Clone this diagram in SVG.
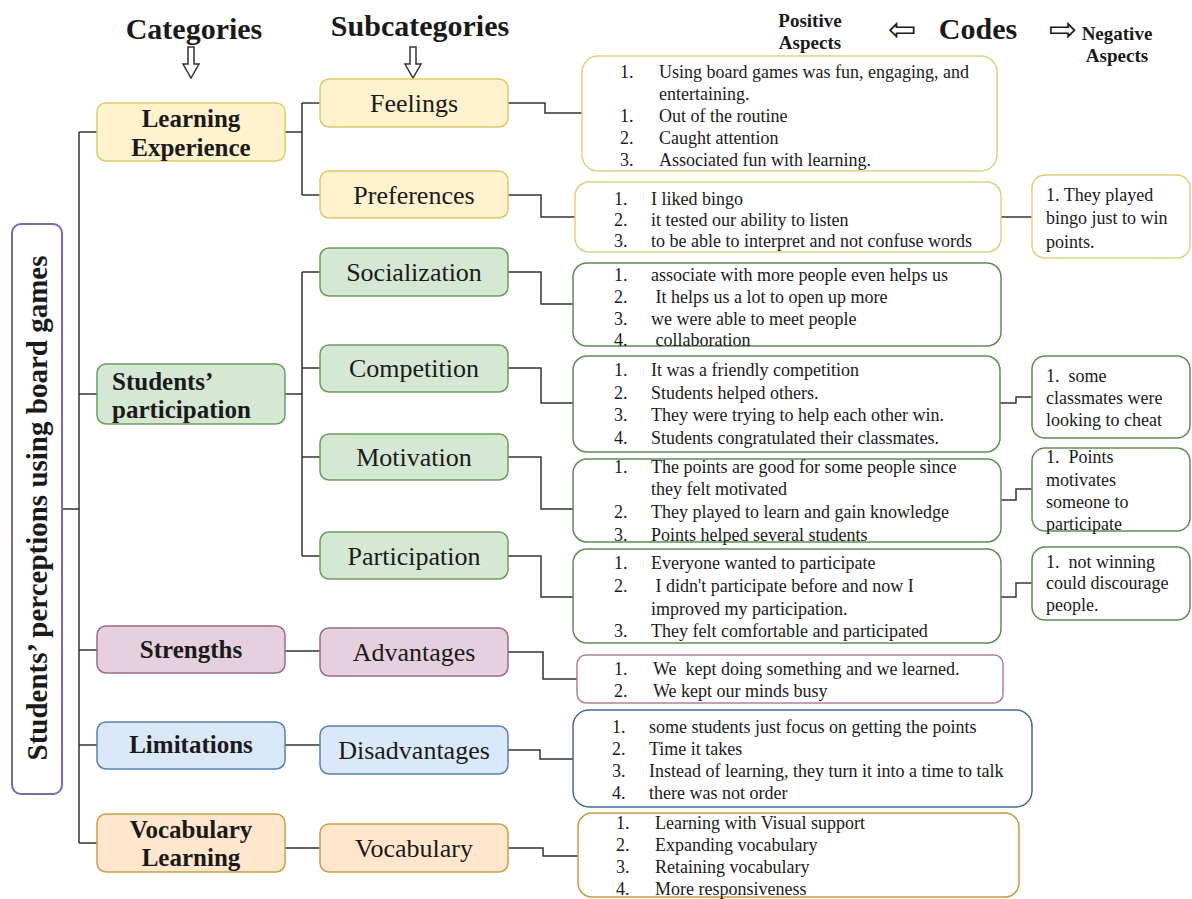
<svg xmlns="http://www.w3.org/2000/svg" width="1192" height="899" viewBox="0 0 1192 899">
<style>
text{font-family:"Liberation Serif","Times New Roman",serif;fill:#1a1a1a}
.hd{font-size:30px;font-weight:bold;text-anchor:middle}
.asp{font-size:19px;font-weight:bold;text-anchor:middle}
.arr{font-family:"DejaVu Sans",sans-serif;font-size:34px;text-anchor:middle}
.cat{font-size:25px;font-weight:bold;text-anchor:middle}
.sub{font-size:26px;text-anchor:middle}
.c{font-size:18px;white-space:pre}
.root{font-size:29px;font-weight:bold;text-anchor:middle}
.conn{fill:none;stroke:#333;stroke-width:1.5}
.y{fill:#fff2cc;stroke:#e0c96a;stroke-width:1.5}
.g{fill:#d5e8d4;stroke:#6f9a5f;stroke-width:1.5}
.p{fill:#e6d0de;stroke:#9b6a8a;stroke-width:1.5}
.b{fill:#dae8fc;stroke:#5b7fb0;stroke-width:1.5}
.o{fill:#ffe6cc;stroke:#c9a045;stroke-width:1.5}
.cy{fill:#fff;stroke:#e0cf7e;stroke-width:1.5}
.cg{fill:#fff;stroke:#5f8f50;stroke-width:1.5}
.cp{fill:#fff;stroke:#b07fa0;stroke-width:1.5}
.cb{fill:#fff;stroke:#3f6b98;stroke-width:1.5}
.co{fill:#fff;stroke:#c99a45;stroke-width:1.5}
.ha{fill:#fff;stroke:#333;stroke-width:1.5}
</style>
<rect width="1192" height="899" fill="#fff"/>

<g id="headers">
  <text class="hd" x="194" y="39">Categories</text>
  <text class="hd" x="420" y="36">Subcategories</text>
  <polygon class="ha" points="188,47 194,47 194,64 199,64 191,78 183,64 188,64"/>
  <polygon class="ha" points="410,47 416,47 416,64 421,64 413,78 405,64 410,64"/>
  <text class="asp" x="810" y="27">Positive</text>
  <text class="asp" x="810" y="49">Aspects</text>
  <text class="arr" x="902" y="41">⇦</text>
  <text class="hd" x="978" y="39">Codes</text>
  <text class="arr" x="1063" y="41">⇨</text>
  <text class="asp" x="1117" y="40">Negative</text>
  <text class="asp" x="1117" y="62">Aspects</text>
</g>

<g id="connectors">
  <path class="conn" d="M62,509 H79 M79,132 V843 M79,132 H97 M79,394 H97 M79,650 H97 M79,745 H97 M79,843 H97"/>
  <path class="conn" d="M285,132 H302 M302,103 V195 M302,103 H320 M302,195 H320"/>
  <path class="conn" d="M285,394 H302 M302,272 V556 M302,272 H320 M302,368 H320 M302,457 H320 M302,556 H320"/>
  <path class="conn" d="M285,651 H320 M285,745 H320 M285,848 H320"/>
  <path class="conn" d="M508,103 H545 V113 H582"/>
  <path class="conn" d="M508,195 H541 V217 H575"/>
  <path class="conn" d="M508,272 H541 V304 H573"/>
  <path class="conn" d="M508,368 H541 V403 H573"/>
  <path class="conn" d="M508,457 H541 V509 H573"/>
  <path class="conn" d="M508,556 H541 V597 H573"/>
  <path class="conn" d="M508,652 H543 V679 H577"/>
  <path class="conn" d="M508,750 H540 V759 H573"/>
  <path class="conn" d="M508,848 H543 V856 H578"/>
  <path class="conn" d="M1001,217 H1032"/>
  <path class="conn" d="M1000,403 H1016 V397 H1032"/>
  <path class="conn" d="M1001,500 H1016 V489 H1032"/>
  <path class="conn" d="M1001,597 H1016 V583 H1032"/>
</g>

<g id="root">
  <rect x="12" y="224" width="50" height="570" rx="9" fill="#fff" stroke="#7a68b5" stroke-width="2"/>
  <text class="root" transform="translate(37,508) rotate(-90)" x="0" y="10">Students’ perceptions using board games</text>
</g>

<g id="cat-learning-experience">
  <rect class="y" x="97" y="103" width="188" height="58" rx="9"/>
  <text class="cat" x="191" y="127">Learning</text>
  <text class="cat" x="191" y="156">Experience</text>
</g>
<g id="cat-students-participation">
  <rect class="g" x="97" y="364" width="188" height="60" rx="9"/>
  <text class="cat" x="112" y="390" style="text-anchor:start">Students’</text>
  <text class="cat" x="112" y="418" style="text-anchor:start">participation</text>
</g>
<g id="cat-strengths">
  <rect class="p" x="97" y="626" width="188" height="47" rx="9"/>
  <text class="cat" x="191" y="658">Strengths</text>
</g>
<g id="cat-limitations">
  <rect class="b" x="97" y="722" width="188" height="47" rx="9"/>
  <text class="cat" x="191" y="753">Limitations</text>
</g>
<g id="cat-vocabulary-learning">
  <rect class="o" x="97" y="814" width="188" height="58" rx="9"/>
  <text class="cat" x="191" y="838">Vocabulary</text>
  <text class="cat" x="191" y="866">Learning</text>
</g>

<g id="sub-feelings"><rect class="y" x="320" y="79" width="188" height="48" rx="9"/><text class="sub" x="414" y="112">Feelings</text></g>
<g id="sub-preferences"><rect class="y" x="320" y="171" width="188" height="47" rx="9"/><text class="sub" x="414" y="204">Preferences</text></g>
<g id="sub-socialization"><rect class="g" x="320" y="248" width="188" height="48" rx="9"/><text class="sub" x="414" y="281">Socialization</text></g>
<g id="sub-competition"><rect class="g" x="320" y="345" width="188" height="47" rx="9"/><text class="sub" x="414" y="377">Competition</text></g>
<g id="sub-motivation"><rect class="g" x="320" y="434" width="188" height="46" rx="9"/><text class="sub" x="414" y="466">Motivation</text></g>
<g id="sub-participation"><rect class="g" x="320" y="532" width="188" height="47" rx="9"/><text class="sub" x="414" y="565">Participation</text></g>
<g id="sub-advantages"><rect class="p" x="320" y="628" width="188" height="48" rx="9"/><text class="sub" x="414" y="661">Advantages</text></g>
<g id="sub-disadvantages"><rect class="b" x="320" y="726" width="188" height="48" rx="9"/><text class="sub" x="414" y="759">Disadvantages</text></g>
<g id="sub-vocabulary"><rect class="o" x="320" y="824" width="188" height="48" rx="9"/><text class="sub" x="414" y="857">Vocabulary</text></g>

<g id="code-feelings">
  <rect class="cy" x="582" y="56" width="415" height="115" rx="16"/>
  <text class="c" x="620" y="78">1.</text><text class="c" x="659" y="78">Using board games was fun, engaging, and</text>
  <text class="c" x="659" y="100">entertaining.</text>
  <text class="c" x="620" y="122">1.</text><text class="c" x="659" y="122">Out of the routine</text>
  <text class="c" x="620" y="144">2.</text><text class="c" x="659" y="144">Caught attention</text>
  <text class="c" x="620" y="166">3.</text><text class="c" x="659" y="166">Associated fun with learning.</text>
</g>
<g id="code-preferences">
  <rect class="cy" x="575" y="182" width="426" height="70" rx="14"/>
  <text class="c" x="614" y="205">1.</text><text class="c" x="651" y="205">I liked bingo</text>
  <text class="c" x="614" y="226">2.</text><text class="c" x="651" y="226">it tested our ability to listen</text>
  <text class="c" x="614" y="247">3.</text><text class="c" x="651" y="247">to be able to interpret and not confuse words</text>
</g>
<g id="code-socialization">
  <rect class="cg" x="573" y="263" width="428" height="83" rx="14"/>
  <text class="c" x="614" y="281">1.</text><text class="c" x="651" y="281">associate with more people even helps us</text>
  <text class="c" x="614" y="303">2.</text><text class="c" x="651" y="303"> It helps us a lot to open up more</text>
  <text class="c" x="614" y="325">3.</text><text class="c" x="651" y="325">we were able to meet people</text>
  <text class="c" x="614" y="346">4.</text><text class="c" x="651" y="346"> collaboration</text>
</g>
<g id="code-competition">
  <rect class="cg" x="573" y="356" width="427" height="96" rx="14"/>
  <text class="c" x="614" y="376">1.</text><text class="c" x="651" y="376">It was a friendly competition</text>
  <text class="c" x="614" y="399">2.</text><text class="c" x="651" y="399">Students helped others.</text>
  <text class="c" x="614" y="421">3.</text><text class="c" x="651" y="421">They were trying to help each other win.</text>
  <text class="c" x="614" y="444">4.</text><text class="c" x="651" y="444">Students congratulated their classmates.</text>
</g>
<g id="code-motivation">
  <rect class="cg" x="573" y="459" width="428" height="83" rx="14"/>
  <text class="c" x="614" y="473">1.</text><text class="c" x="651" y="473">The points are good for some people since</text>
  <text class="c" x="651" y="495">they felt motivated</text>
  <text class="c" x="614" y="518">2.</text><text class="c" x="651" y="518">They played to learn and gain knowledge</text>
  <text class="c" x="614" y="541">3.</text><text class="c" x="651" y="541">Points helped several students</text>
</g>
<g id="code-participation">
  <rect class="cg" x="573" y="549" width="428" height="94" rx="14"/>
  <text class="c" x="614" y="569">1.</text><text class="c" x="651" y="569">Everyone wanted to participate</text>
  <text class="c" x="614" y="592">2.</text><text class="c" x="651" y="592"> I didn't participate before and now I</text>
  <text class="c" x="651" y="615">improved my participation.</text>
  <text class="c" x="614" y="637">3.</text><text class="c" x="651" y="637">They felt comfortable and participated</text>
</g>
<g id="code-advantages">
  <rect class="cp" x="577" y="655" width="426" height="48" rx="9"/>
  <text class="c" x="614" y="675">1.</text><text class="c" x="653" y="675">We  kept doing something and we learned.</text>
  <text class="c" x="614" y="697">2.</text><text class="c" x="653" y="697">We kept our minds busy</text>
</g>
<g id="code-disadvantages">
  <rect class="cb" x="573" y="710" width="459" height="97" rx="16"/>
  <text class="c" x="612" y="733">1.</text><text class="c" x="649" y="733">some students just focus on getting the points</text>
  <text class="c" x="612" y="755">2.</text><text class="c" x="649" y="755">Time it takes</text>
  <text class="c" x="612" y="777">3.</text><text class="c" x="649" y="777">Instead of learning, they turn it into a time to talk</text>
  <text class="c" x="612" y="799">4.</text><text class="c" x="649" y="799">there was not order</text>
</g>
<g id="code-vocabulary">
  <rect class="co" x="578" y="813" width="441" height="84" rx="14"/>
  <text class="c" x="616" y="829">1.</text><text class="c" x="655" y="829">Learning with Visual support</text>
  <text class="c" x="616" y="851">2.</text><text class="c" x="655" y="851">Expanding vocabulary</text>
  <text class="c" x="616" y="873">3.</text><text class="c" x="655" y="873">Retaining vocabulary</text>
  <text class="c" x="616" y="895">4.</text><text class="c" x="655" y="895">More responsiveness</text>
</g>

<g id="neg-preferences">
  <rect class="cy" x="1032" y="175" width="158" height="83" rx="13"/>
  <text class="c" x="1046" y="201">1. They played</text>
  <text class="c" x="1046" y="224">bingo just to win</text>
  <text class="c" x="1046" y="248">points.</text>
</g>
<g id="neg-competition">
  <rect class="cg" x="1032" y="356" width="158" height="82" rx="13"/>
  <text class="c" x="1046" y="382">1.  some</text>
  <text class="c" x="1046" y="404">classmates were</text>
  <text class="c" x="1046" y="426">looking to cheat</text>
</g>
<g id="neg-motivation">
  <rect class="cg" x="1032" y="448" width="158" height="83" rx="13"/>
  <text class="c" x="1046" y="463">1.  Points</text>
  <text class="c" x="1046" y="486">motivates</text>
  <text class="c" x="1046" y="508">someone to</text>
  <text class="c" x="1046" y="530">participate</text>
</g>
<g id="neg-participation">
  <rect class="cg" x="1032" y="547" width="158" height="73" rx="13"/>
  <text class="c" x="1046" y="568">1.  not winning</text>
  <text class="c" x="1046" y="589">could discourage</text>
  <text class="c" x="1046" y="611">people.</text>
</g>
</svg>
